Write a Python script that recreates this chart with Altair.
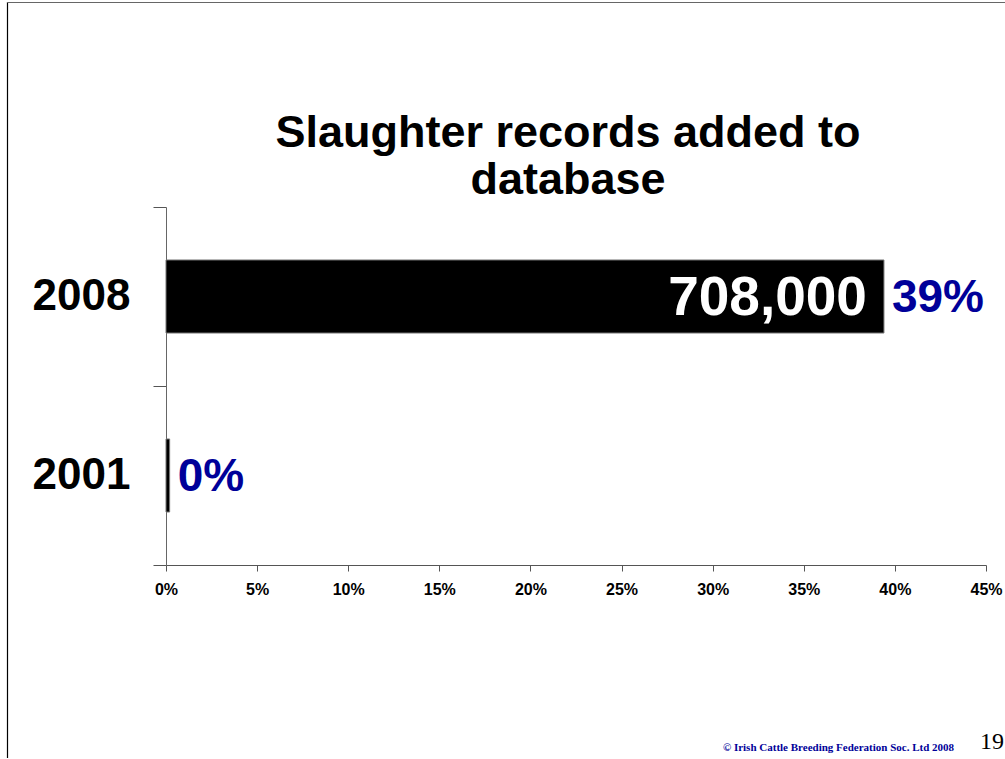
import altair as alt
import pandas as pd

years = ["2008", "2001"]
shares = [0.394, 0.002]
record_labels = ["708,000", ""]
pct_labels = ["39%", "0%"]
x_ticks = [0, 0.05, 0.10, 0.15, 0.20, 0.25, 0.30, 0.35, 0.40, 0.45]
title_lines = ["Slaughter records added to", "database"]
footer_text = "© Irish Cattle Breeding Federation Soc. Ltd 2008"
page_number = "19"

df = pd.DataFrame({"year": years, "share": shares,
                   "records": record_labels, "pct": pct_labels})

W, H = 820, 358
NAVY = "#000099"

x_enc = alt.X("share:Q",
              scale=alt.Scale(domain=[0, 0.45], nice=False, zero=True),
              axis=alt.Axis(values=x_ticks, format=".0%", grid=False, title=None,
                            tickSize=6, labelFontSize=16, labelFontWeight="bold",
                            labelFont="Arial", labelColor="black", labelPadding=10,
                            labelFlush=False, labelOverlap=False,
                            domainColor="#555555", tickColor="#555555"))
y_enc = alt.Y("year:N", sort=years,
              scale=alt.Scale(paddingInner=0, paddingOuter=0),
              axis=alt.Axis(title=None, tickBand="extent", tickSize=13,
                            labelFontSize=44, labelFontWeight="bold", labelFont="Arial",
                            labelColor="black", labelPadding=23,
                            domainColor="#666666", tickColor="#555555"))

base = alt.Chart(df)

bars = base.mark_bar(color="black", stroke="#777777", strokeWidth=1,
                     height=alt.RelativeBandSize(0.408)).encode(x=x_enc, y=y_enc)

records_text = base.mark_text(align="right", baseline="middle", dx=-17, dy=1,
                              font="Arial", fontSize=55, fontWeight="bold",
                              color="white").encode(
    x="share:Q", y=alt.Y("year:N", sort=years), text="records:N")

pct_text = base.mark_text(align="left", baseline="middle", dx=8, dy=1,
                          font="Arial", fontSize=46, fontWeight="bold",
                          color=NAVY).encode(
    x="share:Q", y=alt.Y("year:N", sort=years), text="pct:N")

one = alt.Data(values=[{}])

title1 = alt.Chart(one).mark_text(align="center", baseline="alphabetic",
                                  font="Arial", fontSize=45, fontWeight="bold",
                                  color="black", text=title_lines[0]).encode(
    x=alt.value(402), y=alt.value(-60))
title2 = alt.Chart(one).mark_text(align="center", baseline="alphabetic",
                                  font="Arial", fontSize=45, fontWeight="bold",
                                  color="black", text=title_lines[1]).encode(
    x=alt.value(402), y=alt.value(-13))

footer = alt.Chart(one).mark_text(align="right", baseline="alphabetic",
                                  font="Liberation Serif", fontSize=11,
                                  fontWeight="bold", color="#000099",
                                  text=footer_text).encode(
    x=alt.value(788), y=alt.value(544))
page = alt.Chart(one).mark_text(align="left", baseline="alphabetic",
                                font="Liberation Serif", fontSize=24,
                                color="black", text=page_number).encode(
    x=alt.value(814), y=alt.value(542))

left_border = alt.Chart(one).mark_rule(color="black", strokeWidth=1.2).encode(
    x=alt.value(-158.5), y=alt.value(-205), y2=alt.value(551))
top_border = alt.Chart(one).mark_rule(color="#666666", strokeWidth=1.2).encode(
    x=alt.value(-159), x2=alt.value(839), y=alt.value(-204.5))

chart = alt.layer(bars, records_text, pct_text, title1, title2, footer, page,
                  left_border, top_border).properties(
    width=W, height=H,
    autosize=alt.AutoSizeParams(type="none"),
    padding={"left": 166, "top": 207, "right": 19, "bottom": 194},
    background="white",
).configure_view(stroke=None)

chart.save("out.html", embed_options={"renderer": "svg", "actions": False})
